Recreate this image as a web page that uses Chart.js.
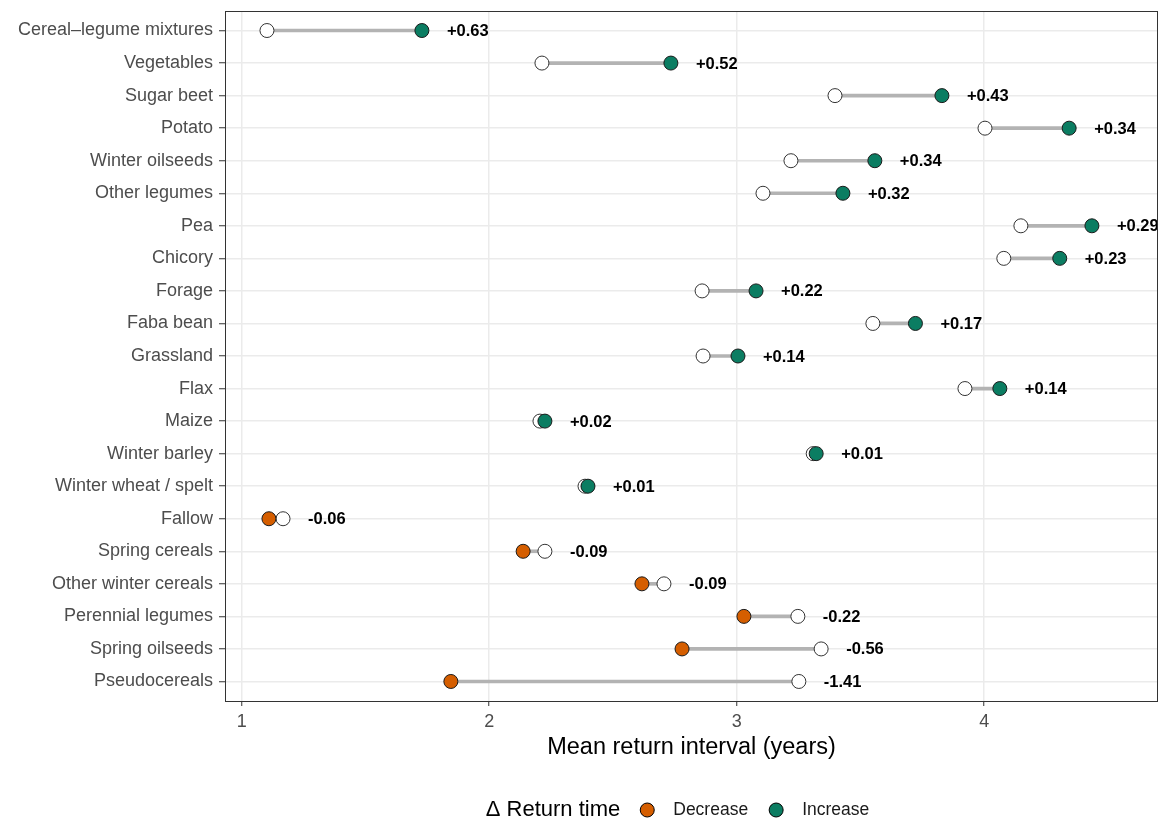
<!DOCTYPE html>
<html>
<head>
<meta charset="utf-8">
<script src="https://cdn.jsdelivr.net/npm/chart.js@4.4.1/dist/chart.umd.min.js"></script>
<style>
  html, body { margin: 0; padding: 0; background: #fff; }
</style>
</head>
<body>
<canvas id="chart" width="1159" height="820"></canvas>
<script>
// data (top row first)
const categories = [
    'Cereal\u2013legume mixtures', 'Vegetables', 'Sugar beet', 'Potato', 'Winter oilseeds',
    'Other legumes', 'Pea', 'Chicory', 'Forage', 'Faba bean', 'Grassland', 'Flax', 'Maize',
    'Winter barley', 'Winter wheat / spelt', 'Fallow', 'Spring cereals', 'Other winter cereals',
    'Perennial legumes', 'Spring oilseeds', 'Pseudocereals'
];
// open (white) points
const before = [
    1.102, 2.213, 3.397, 4.003, 3.219, 3.106, 4.148, 4.079, 2.860, 3.550, 2.864,
    3.922, 2.205, 3.309, 2.387, 1.167, 2.225, 2.706, 3.247, 3.341, 3.251
];
// filled (coloured) points
const after = [
    1.728, 2.734, 3.829, 4.343, 3.558, 3.429, 4.435, 4.305, 3.078, 3.722, 3.005,
    4.063, 2.225, 3.321, 2.399, 1.110, 2.137, 2.617, 3.029, 2.779, 1.845
];
const deltaLabels = [
    '+0.63', '+0.52', '+0.43', '+0.34', '+0.34', '+0.32', '+0.29', '+0.23', '+0.22', '+0.17', '+0.14',
    '+0.14', '+0.02', '+0.01', '+0.01', '-0.06', '-0.09', '-0.09', '-0.22', '-0.56', '-1.41'
];
const xTicks = [1, 2, 3, 4];
const legendTitle = '\u0394 Return time';
const legendItems = ['Decrease', 'Increase'];

const GREEN = '#0b7d62';
const ORANGE = '#d55e00';
const FONT = "'Liberation Sans', Arial, Helvetica, sans-serif";

const pointColors = categories.map((c, i) => after[i] >= before[i] ? GREEN : ORANGE);

// text next to each dumbbell
const valueLabels = {
    id: 'valueLabels',
    afterDatasetsDraw(chart) {
        const ctx = chart.ctx;
        const xs = chart.scales.x, ys = chart.scales.y;
        ctx.save();
        ctx.font = 'bold 16.5px ' + FONT;
        ctx.fillStyle = '#000';
        ctx.textAlign = 'left';
        ctx.textBaseline = 'middle';
        categories.forEach((c, i) => {
            const x = xs.getPixelForValue(Math.max(before[i], after[i])) + 25;
            ctx.fillText(deltaLabels[i], x, ys.getPixelForValue(i) + 1);
        });
        ctx.restore();
    }
};

// full panel border like theme_bw
const panelBorder = {
    id: 'panelBorder',
    afterDraw(chart) {
        const a = chart.chartArea, ctx = chart.ctx;
        ctx.save();
        ctx.strokeStyle = '#333333';
        ctx.lineWidth = 1;
        ctx.strokeRect(a.left + 0.5, a.top + 0.5, a.right - a.left - 1, a.bottom - a.top);
        ctx.restore();
    }
};

// legend under the plot: title then items on one line
const bottomLegend = {
    id: 'bottomLegend',
    afterDraw(chart) {
        const ctx = chart.ctx;
        const y = 810;
        const colors = [ORANGE, GREEN];
        ctx.save();
        ctx.textBaseline = 'middle';
        ctx.textAlign = 'left';
        ctx.font = '22px ' + FONT;
        const tW = ctx.measureText(legendTitle).width;
        ctx.font = '17.5px ' + FONT;
        const iW = legendItems.map(t => ctx.measureText(t).width);
        const total = tW + legendItems.length * (20 + 14 + 19) + iW.reduce((s, w) => s + w, 0) + 20 * (legendItems.length - 1) - 20;
        let x = 677 - total / 2;
        ctx.font = '22px ' + FONT;
        ctx.fillStyle = '#000';
        ctx.fillText(legendTitle, x, y);
        x += tW + 20;
        ctx.font = '17.5px ' + FONT;
        legendItems.forEach((t, i) => {
            ctx.beginPath();
            ctx.arc(x + 7, y, 7, 0, Math.PI * 2);
            ctx.fillStyle = colors[i];
            ctx.fill();
            ctx.lineWidth = 1;
            ctx.strokeStyle = '#000';
            ctx.stroke();
            x += 14 + 19;
            ctx.fillStyle = '#1a1a1a';
            ctx.fillText(t, x, y);
            x += iW[i] + 21;
        });
        ctx.restore();
    }
};

new Chart(document.getElementById('chart'), {
    type: 'bar',
    data: {
        datasets: [
            {
                type: 'line',
                label: 'after',
                data: categories.map((c, i) => ({ x: after[i], y: i })),
                showLine: false,
                pointRadius: 7,
                pointHoverRadius: 7,
                pointBorderWidth: 1,
                pointBackgroundColor: pointColors,
                pointBorderColor: '#1a1a1a',
                order: 1
            },
            {
                type: 'line',
                label: 'before',
                data: categories.map((c, i) => ({ x: before[i], y: i })),
                showLine: false,
                pointRadius: 7,
                pointHoverRadius: 7,
                pointBorderWidth: 1,
                pointBackgroundColor: '#ffffff',
                pointBorderColor: '#333333',
                order: 2
            },
            {
                type: 'bar',
                label: 'segment',
                data: categories.map((c, i) => ({ y: i, x: [before[i], after[i]] })),
                backgroundColor: '#b3b3b3',
                borderWidth: 0,
                barThickness: 3,
                order: 3
            }
        ]
    },
    options: {
        indexAxis: 'y',
        responsive: false,
        animation: false,
        devicePixelRatio: 1,
        layout: { autoPadding: false, padding: { top: 11, right: 1, left: 0, bottom: 58 } },
        plugins: {
            legend: { display: false },
            tooltip: { enabled: false }
        },
        scales: {
            x: {
                type: 'linear',
                min: 0.9325,
                max: 4.702,
                beginAtZero: false,
                offset: false,
                afterBuildTicks: s => { s.ticks = xTicks.map(v => ({ value: v })); },
                afterFit: s => { s.height = 61; s.paddingLeft = 0; s.paddingRight = 0; },
                border: { display: false },
                grid: {
                    color: '#ebebeb',
                    lineWidth: 1.5,
                    offset: false,
                    tickLength: 5,
                    tickColor: '#333333',
                    tickWidth: 1
                },
                ticks: {
                    color: '#4d4d4d',
                    font: { family: FONT, size: 18 },
                    padding: 5,
                    maxRotation: 0,
                    autoSkip: false,
                    callback: v => String(v)
                },
                title: {
                    display: true,
                    text: 'Mean return interval (years)',
                    color: '#000',
                    font: { family: FONT, size: 23.5 },
                    padding: { top: 0, bottom: 0 }
                }
            },
            y: {
                type: 'linear',
                reverse: true,
                min: -0.6,
                max: 20.6,
                offset: false,
                afterBuildTicks: s => { s.ticks = categories.map((c, i) => ({ value: i })); },
                afterFit: s => { s.width = 225; s.paddingTop = 0; s.paddingBottom = 0; },
                border: { display: false },
                grid: {
                    color: '#ebebeb',
                    lineWidth: 1.5,
                    offset: false,
                    tickLength: 6,
                    tickColor: '#333333',
                    tickWidth: 1
                },
                ticks: {
                    color: '#4d4d4d',
                    font: { family: FONT, size: 18 },
                    padding: 6,
                    autoSkip: false,
                    callback: v => categories[v]
                }
            }
        }
    },
    plugins: [valueLabels, panelBorder, bottomLegend]
});
</script>
</body>
</html>
